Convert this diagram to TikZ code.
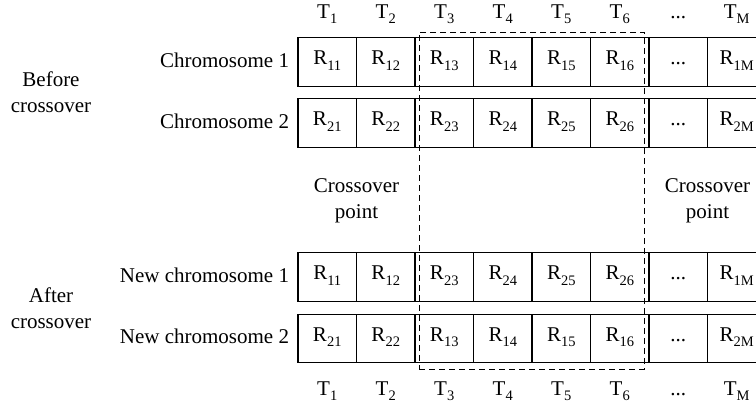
\documentclass[tikz,border=0pt]{standalone}
\usepackage{fontspec}
\setmainfont{Liberation Serif}
\newcommand\subidx[1]{\raisebox{-0.27em}{\fontsize{14.5}{14.5}\selectfont #1}}
\begin{document}
\begin{tikzpicture}[x=1pt,y=-1pt,
  every node/.style={font=\fontsize{21}{26}\selectfont, inner sep=0pt, outer sep=0pt},
  cell/.style={draw, line width=1.1pt, minimum width=58.5pt, minimum height=48.5pt,
    text height=11pt, text depth=6pt},
  rowlab/.style={anchor=base east},
  tlab/.style={anchor=base},
  sidelab/.style={align=center},
  swapbox/.style={draw, dashed, line width=1pt, dash pattern=on 6pt off 4pt,
    minimum width=225pt, minimum height=337pt}]
\useasboundingbox (0,0) rectangle (756,408);
\clip (0,0) rectangle (756,408);

% column headers (top and bottom)
\foreach \t/\x [count=\i] in {1/327.25, 2/385.75, 3/444.25, 4/502.75, 5/561.25, 6/619.75} {
  \node[tlab] (top\i) at (\x,18) {T\subidx{\t}};
  \node[tlab] (bot\i) at (\x,395) {T\subidx{\t}};
}
\node[tlab] (top7) at (678.25,18) {...};
\node[tlab] (bot7) at (678.25,395) {...};
\node[tlab] (top8) at (736.75,18) {T\subidx{M}};
\node[tlab] (bot8) at (736.75,395) {T\subidx{M}};

% rows of cells
\foreach \r/\yc/\a/\b/\c/\d/\e/\f/\m in {
  1/62/11/12/13/14/15/16/1M,
  2/123/21/22/23/24/25/26/2M,
  3/277/11/12/23/24/25/26/1M,
  4/338.5/21/22/13/14/15/16/2M} {
  \node[cell] (r\r c1) at (327.25,\yc) {R\subidx{\a}};
  \node[cell] (r\r c2) at (385.75,\yc) {R\subidx{\b}};
  \node[cell] (r\r c3) at (444.25,\yc) {R\subidx{\c}};
  \node[cell] (r\r c4) at (502.75,\yc) {R\subidx{\d}};
  \node[cell] (r\r c5) at (561.25,\yc) {R\subidx{\e}};
  \node[cell] (r\r c6) at (619.75,\yc) {R\subidx{\f}};
  \node[cell] (r\r c7) at (678.25,\yc) {...};
  \node[cell] (r\r c8) at (736.75,\yc) {R\subidx{\m}};
}

% row labels
\node[rowlab] (lab1) at (289,67) {Chromosome 1};
\node[rowlab] (lab2) at (289,128) {Chromosome 2};
\node[rowlab] (lab3) at (289,282) {New chromosome 1};
\node[rowlab] (lab4) at (289,343.5) {New chromosome 2};

\node[sidelab] (before) at (51,92) {Before\\crossover};
\node[sidelab] (after) at (51,308) {After\\crossover};

\node[sidelab] (cpl) at (356.5,201) {Crossover\\point};
\node[sidelab] (cpr) at (707.5,201) {Crossover\\point};

% swapped segment
\node[swapbox] (swap) at (531.5,200.5) {};
\end{tikzpicture}
\end{document}
